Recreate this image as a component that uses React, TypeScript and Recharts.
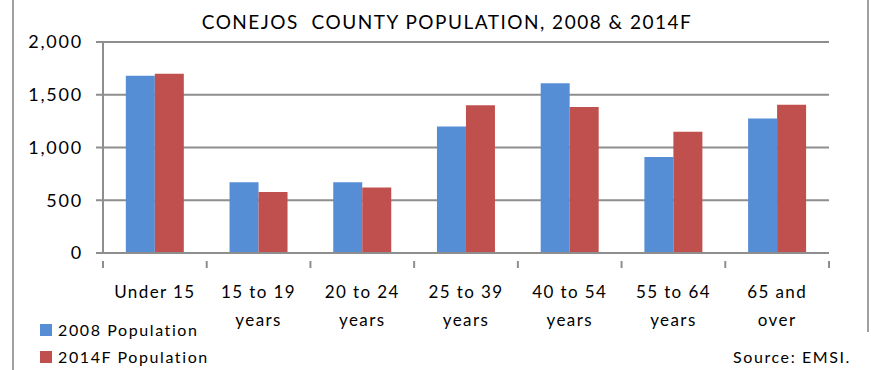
import React from "react";
import { Bar, BarChart, CartesianGrid, XAxis, YAxis } from "recharts";

const ageGroups = [
  "Under 15",
  "15 to 19 years",
  "20 to 24 years",
  "25 to 39 years",
  "40 to 54 years",
  "55 to 64 years",
  "65 and over",
];
const pop2008 = [1680, 670, 670, 1200, 1610, 910, 1275];
const pop2014F = [1700, 578, 620, 1400, 1385, 1150, 1405];
const yTicks = [0, 500, 1000, 1500, 2000];
const seriesNames = ["2008 Population", "2014F Population"];
const seriesColors = ["#558ED5", "#C0504D"];

const data = ageGroups.map((name, i) => ({
  name,
  p2008: pop2008[i],
  p2014: pop2014F[i],
}));

const W = 871;
const H = 370;
const FONT = "Lato, 'Open Sans', sans-serif";
const GRID = "#8e8e8e";
const PLOT_LEFT = 103;
const PLOT_RIGHT = 829;
const BAND = (PLOT_RIGHT - PLOT_LEFT) / ageGroups.length;

function splitLabel(s: string) {
  const words = s.split(" ");
  if (words.length <= 2) return [s];
  return [words.slice(0, -1).join(" "), words[words.length - 1]];
}

function CategoryTick(props: any) {
  const { x, y, payload, index } = props;
  const lines = splitLabel(payload.value);
  const left = x - BAND / 2;
  return (
    <g>
      <line x1={left} x2={left} y1={y} y2={y + 7} stroke={GRID} strokeWidth={2} />
      {index === ageGroups.length - 1 && (
        <line x1={left + BAND} x2={left + BAND} y1={y} y2={y + 7} stroke={GRID} strokeWidth={2} />
      )}
      <text
        x={x}
        y={y + 37}
        textAnchor="middle"
        fill="#000"
        fontSize={17}
        fontFamily={FONT}
        style={{ letterSpacing: 1.4 }}
      >
        {lines.map((l, i) => (
          <tspan key={i} x={x} dy={i === 0 ? 0 : 28}>
            {l}
          </tspan>
        ))}
      </text>
    </g>
  );
}

export default function App() {
  return (
    <div style={{ position: "absolute", left: 0, top: 0, width: W, height: H, background: "#fff", fontFamily: FONT }}>
      <div style={{ position: "absolute", left: 12, top: 0, width: 2, height: H, background: "#a0a0a0" }} />
      <div style={{ position: "absolute", left: 867, top: 0, width: 2, height: 332, background: "#a0a0a0" }} />
      <div
        style={{
          position: "absolute",
          left: 0,
          width: 894,
          top: 10,
          textAlign: "center",
          fontSize: 19,
          letterSpacing: 1.5,
          whiteSpace: "pre",
          color: "#000",
        }}
      >
        {"CONEJOS  COUNTY POPULATION, 2008 & 2014F"}
      </div>
      <BarChart
        width={W}
        height={H}
        data={data}
        margin={{ top: 42, right: W - PLOT_RIGHT, bottom: 37, left: 0 }}
        barCategoryGap="22%"
        barGap={0}
      >
        <CartesianGrid vertical={false} stroke={GRID} strokeWidth={2} />
        <YAxis
          width={PLOT_LEFT}
          domain={[0, 2000]}
          ticks={yTicks}
          tickFormatter={(v: number) => v.toLocaleString("en-US")}
          stroke={GRID}
          strokeWidth={2}
          tickSize={7}
          tickMargin={13}
          tick={{ fill: "#000", fontSize: 18, fontFamily: FONT, style: { letterSpacing: 1.8 } }}
        />
        <XAxis
          dataKey="name"
          height={80}
          stroke={GRID}
          strokeWidth={2}
          tickLine={false}
          interval={0}
          tick={<CategoryTick />}
        />
        <Bar dataKey="p2008" name={seriesNames[0]} fill={seriesColors[0]} isAnimationActive={false} />
        <Bar dataKey="p2014" name={seriesNames[1]} fill={seriesColors[1]} isAnimationActive={false} />
      </BarChart>
      {seriesNames.map((n, i) => (
        <div
          key={n}
          style={{
            position: "absolute",
            left: 40,
            top: 320 + i * 27,
            display: "flex",
            alignItems: "center",
            fontSize: 16,
            letterSpacing: 1.6,
            color: "#000",
          }}
        >
          <span style={{ width: 12, height: 12, background: seriesColors[i], marginRight: 6, display: "inline-block" }} />
          {n}
        </div>
      ))}
      <div style={{ position: "absolute", left: 733, top: 347, fontSize: 16, letterSpacing: 1.6, color: "#000" }}>
        Source: EMSI.
      </div>
    </div>
  );
}
